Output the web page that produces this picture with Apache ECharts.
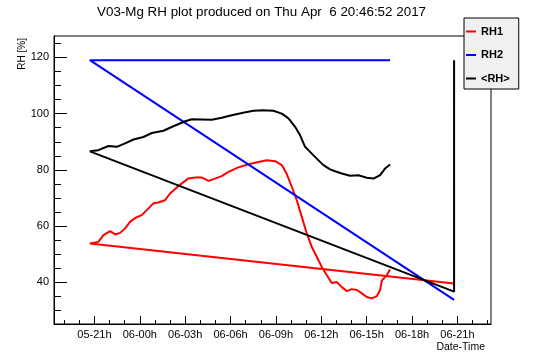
<!DOCTYPE html>
<html>
<head>
<meta charset="utf-8">
<script src="https://cdn.jsdelivr.net/npm/echarts@6/dist/echarts.min.js"></script>
<style>
html,body{margin:0;padding:0;background:#fff;}
#chart{width:546px;height:362px;}
</style>
</head>
<body>
<div id="chart"></div>
<script>
// ---- data (hours since 05 Apr 00:00) ----
const rh1Time = [44.78, 20.7, 21.26, 21.6, 22.04, 22.37, 22.7, 23.03, 23.36, 23.69, 24.13, 24.46, 24.9, 25.23, 25.67, 26.0, 26.45, 26.78, 27.21, 27.66, 28.1, 28.54, 28.98, 29.42, 29.86, 30.52, 31.18, 31.84, 32.4, 32.95, 33.39, 33.72, 34.05, 34.38, 34.71, 35.04, 35.37, 35.7, 36.03, 36.36, 36.69, 37.03, 37.36, 37.69, 38.02, 38.35, 38.68, 39.01, 39.34, 39.67, 39.89, 40.0, 40.33, 40.55];
const rh1Val  = [39.6, 53.8, 54.4, 56.8, 58.2, 57.05, 57.6, 59.2, 61.5, 62.9, 63.9, 65.7, 68.1, 68.4, 69.2, 71.6, 73.7, 75.2, 76.9, 77.3, 77.3, 76.1, 76.9, 77.8, 79.3, 80.9, 82.0, 82.8, 83.4, 83.1, 81.7, 78.5, 74.0, 69.2, 63.3, 57.4, 52.6, 49.1, 45.5, 42.6, 39.75, 40.1, 38.3, 36.9, 37.6, 37.3, 36.1, 34.8, 34.3, 35.1, 37.3, 40.6, 42.6, 44.6];

const rh2Time = [44.78, 20.7, 40.55];
const rh2Val  = [33.8, 119.0, 119.0];

const rhAvgTime = [44.78, 44.78, 20.7, 21.26, 21.93, 22.48, 23.03, 23.58, 24.24, 24.8, 25.56, 26.22, 27.0, 27.44, 28.1, 28.76, 29.42, 30.08, 30.83, 31.51, 32.17, 32.83, 33.39, 33.83, 34.27, 34.6, 34.93, 35.26, 35.7, 36.14, 36.58, 36.91, 37.36, 37.9, 38.45, 39.01, 39.45, 39.89, 40.22, 40.55];
const rhAvgVal  = [119.0, 36.7, 86.6, 87.0, 88.5, 88.2, 89.4, 90.8, 91.7, 93.1, 93.9, 95.5, 97.3, 98.0, 97.9, 97.8, 98.5, 99.4, 100.3, 101.0, 101.2, 101.0, 100.0, 98.3, 95.3, 92.3, 88.2, 86.4, 84.0, 81.7, 80.2, 79.5, 78.7, 77.9, 78.1, 77.2, 76.9, 78.1, 80.5, 81.9];

const xTickHours  = [21, 24, 27, 30, 33, 36, 39, 42, 45];
const xTickLabels = ['05-21h', '06-00h', '06-03h', '06-06h', '06-09h', '06-12h', '06-15h', '06-18h', '06-21h'];
const xMinorHours = [19, 20, 21, 22, 23, 24, 25, 26, 27, 28, 29, 30, 31, 32, 33, 34, 35, 36, 37, 38, 39, 40, 41, 42, 43, 44, 45, 46, 47];
const yTicks      = [40, 60, 80, 100, 120];
const yMinorTicks = [30, 35, 40, 45, 50, 55, 60, 65, 70, 75, 80, 85, 90, 95, 100, 105, 110, 115, 120, 125];

const seriesNames = ['RH1', 'RH2', '<RH>'];
const seriesColors = ['#ff0000', '#0000ff', '#000000'];
const titleText = 'V03-Mg RH plot produced on Thu Apr  6 20:46:52 2017';

// ---- chart ----
const FONT = "'Liberation Sans', Arial, Helvetica, sans-serif";
const zip = (t, v) => t.map((x, i) => [x, v[i]]);
const X_MIN = 18.33, X_MAX = 47.22, Y_MIN = 25.2, Y_MAX = 127.6;

const chart = echarts.init(document.getElementById('chart'), null, {renderer: 'canvas'});
chart.setOption({
  animation: false,
  backgroundColor: '#ffffff',
  textStyle: {fontFamily: FONT},
  title: {
    text: titleText, left: 97, top: 6, padding: 0,
    textStyle: {fontSize: 13.4, fontWeight: 'normal', color: '#000', fontFamily: FONT}
  },
  legend: {
    orient: 'vertical', left: 464, top: 18,
    padding: [8, 9, 5, 2],
    itemWidth: 10, itemHeight: 2, itemGap: 12.5,
    icon: 'rect',
    backgroundColor: '#f0f0f0', borderColor: '#000', borderWidth: 1, borderRadius: 0,
    textStyle: {fontSize: 11, fontWeight: 'bold', color: '#000', fontFamily: FONT},
    data: seriesNames.map((n, i) => ({name: n, itemStyle: {color: seriesColors[i]}}))
  },
  grid: {
    left: 54, top: 36, right: 55, bottom: 38,
    show: true, borderColor: '#000', borderWidth: 1, backgroundColor: 'transparent'
  },
  xAxis: [{
    type: 'value', min: X_MIN, max: X_MAX, position: 'bottom',
    axisLine: {show: true, lineStyle: {color: '#000', width: 1}},
    axisTick: {show: true, inside: true, length: 8, customValues: xTickHours, lineStyle: {color: '#000'}},
    axisLabel: {
      show: true, customValues: xTickHours, margin: 5, fontSize: 11, color: '#000', fontFamily: FONT,
      formatter: v => xTickLabels[xTickHours.indexOf(Math.round(v))] || ''
    },
    splitLine: {show: false}
  }, {
    type: 'value', min: X_MIN, max: X_MAX, position: 'bottom', offset: 0,
    axisLine: {show: false},
    axisTick: {show: true, inside: true, length: 4, customValues: xMinorHours, lineStyle: {color: '#000'}},
    axisLabel: {show: false},
    splitLine: {show: false}
  }],
  yAxis: [{
    type: 'value', min: Y_MIN, max: Y_MAX, position: 'left',
    axisLine: {show: true, lineStyle: {color: '#000', width: 1}},
    axisTick: {show: true, inside: true, length: 13, customValues: yTicks, lineStyle: {color: '#000'}},
    axisLabel: {show: true, customValues: yTicks, margin: 5, fontSize: 11, color: '#000', fontFamily: FONT},
    splitLine: {show: false}
  }, {
    type: 'value', min: Y_MIN, max: Y_MAX, position: 'left', offset: 0,
    axisLine: {show: false},
    axisTick: {show: true, inside: true, length: 7, customValues: yMinorTicks, lineStyle: {color: '#000'}},
    axisLabel: {show: false},
    splitLine: {show: false}
  }],
  graphic: [
    {type: 'text', x: 22.7, y: 38, rotation: Math.PI / 2,
     style: {text: 'RH [%]', align: 'right', verticalAlign: 'middle', fontSize: 10, fill: '#000', fontFamily: FONT}},
    {type: 'text', x: 485, y: 347, 
     style: {text: 'Date-Time', align: 'right', verticalAlign: 'middle', fontSize: 10.5, fill: '#000', fontFamily: FONT}}
  ],
  series: [
    {name: seriesNames[0], type: 'line', data: zip(rh1Time, rh1Val), showSymbol: false, symbol: 'none',
     color: seriesColors[0], lineStyle: {color: seriesColors[0], width: 2}, xAxisIndex: 0, yAxisIndex: 0},
    {name: seriesNames[1], type: 'line', data: zip(rh2Time, rh2Val), showSymbol: false, symbol: 'none',
     color: seriesColors[1], lineStyle: {color: seriesColors[1], width: 2}, xAxisIndex: 0, yAxisIndex: 0},
    {name: seriesNames[2], type: 'line', data: zip(rhAvgTime, rhAvgVal), showSymbol: false, symbol: 'none',
     color: seriesColors[2], lineStyle: {color: seriesColors[2], width: 2}, xAxisIndex: 0, yAxisIndex: 0}
  ]
});
</script>
</body>
</html>
